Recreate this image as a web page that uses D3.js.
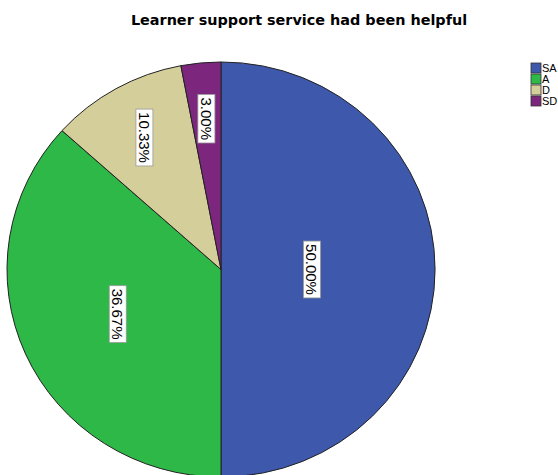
<!DOCTYPE html>
<html>
<head>
    <title>Learner support service had been helpful</title>
    <script src="https://d3js.org/d3.v7.min.js"></script>
    <style>
        body { margin: 0; background: white; }
        text { font-family: "Liberation Sans", Arial, sans-serif; }
    </style>
</head>
<body>
    <svg width="558" height="475"></svg>

    <script>
        const categories = ["SA", "A", "D", "SD"]
        const percents = [50.00, 36.67, 10.33, 3.00]
        const labels = ["50.00%", "36.67%", "10.33%", "3.00%"]
        const colors = ["#3E58AC", "#2EB848", "#D4CF9A", "#7C277D"]

        const width = 558
        const height = 475
        const cx = 221
        const cy = 269.5
        const rx = 214
        const ry = 207.5

        const svg = d3.select("svg")
            .attr("width", width)
            .attr("height", height)

        // title
        svg.append("text")
            .attr("x", 299)
            .attr("y", 25)
            .attr("text-anchor", "middle")
            .style("font-family", "'DejaVu Sans', sans-serif")
            .style("font-size", "14.4px")
            .style("font-weight", "bold")
            .text("Learner support service had been helpful")

        const data = categories.map(function(c, i) {
            return { name: c, value: percents[i], label: labels[i], color: colors[i] }
        })

        const pie = d3.pie()
            .sort(null)
            .value(function(d) { return d.value })
            .startAngle(0)
            .endAngle(2 * Math.PI)

        const arc = d3.arc()
            .innerRadius(0)
            .outerRadius(rx)

        const arcs = pie(data)

        // slices, squashed a little vertically like the original
        const g = svg.append("g")
            .attr("transform", "translate(" + cx + "," + cy + ") scale(1," + (ry / rx) + ")")

        g.selectAll(".slice")
            .data(arcs)
            .enter().append("path")
            .attr("class", "slice")
            .attr("d", arc)
            .attr("fill", function(d) { return d.data.color })
            .attr("stroke", "#222")
            .attr("stroke-width", 1)
            .attr("vector-effect", "non-scaling-stroke")

        // labels at the area centroid of big slices, further out for thin ones
        const lg = svg.append("g")
            .attr("transform", "translate(" + cx + "," + cy + ")")

        const lab = lg.selectAll(".lab")
            .data(arcs)
            .enter().append("g")
            .attr("class", "lab")
            .attr("transform", function(d) {
                const half = (d.endAngle - d.startAngle) / 2
                const mid = d.startAngle + half
                const dist = half > 0.5 ? 2 * rx * Math.sin(half) / (3 * half) : 0.73 * rx
                const x = dist * Math.sin(mid)
                const y = -dist * Math.cos(mid) * ry / rx
                return "translate(" + x + "," + y + ") rotate(90)"
            })

        const txt = lab.append("text")
            .attr("text-anchor", "middle")
            .attr("dy", "0.36em")
            .style("font-size", "15px")
            .text(function(d) { return d.data.label })

        txt.each(function() {
            const b = this.getBBox()
            d3.select(this.parentNode).insert("rect", "text")
                .attr("x", b.x - 3)
                .attr("y", b.y)
                .attr("width", b.width + 6)
                .attr("height", b.height)
                .attr("fill", "white")
                .attr("stroke", "#999")
                .attr("stroke-width", 0.8)
        })

        // legend
        const legendY = d3.scaleBand()
            .domain(categories)
            .range([63, 107])

        const leg = svg.append("g")
            .selectAll(".leg")
            .data(data)
            .enter().append("g")
            .attr("class", "leg")
            .attr("transform", function(d) { return "translate(531," + legendY(d.name) + ")" })

        leg.append("rect")
            .attr("width", 10)
            .attr("height", 10)
            .attr("fill", function(d) { return d.color })
            .attr("stroke", "#333")
            .attr("stroke-width", 0.8)

        leg.append("text")
            .attr("x", 11)
            .attr("y", 9)
            .style("font-size", "11px")
            .text(function(d) { return d.name })
    </script>
</body>
</html>
